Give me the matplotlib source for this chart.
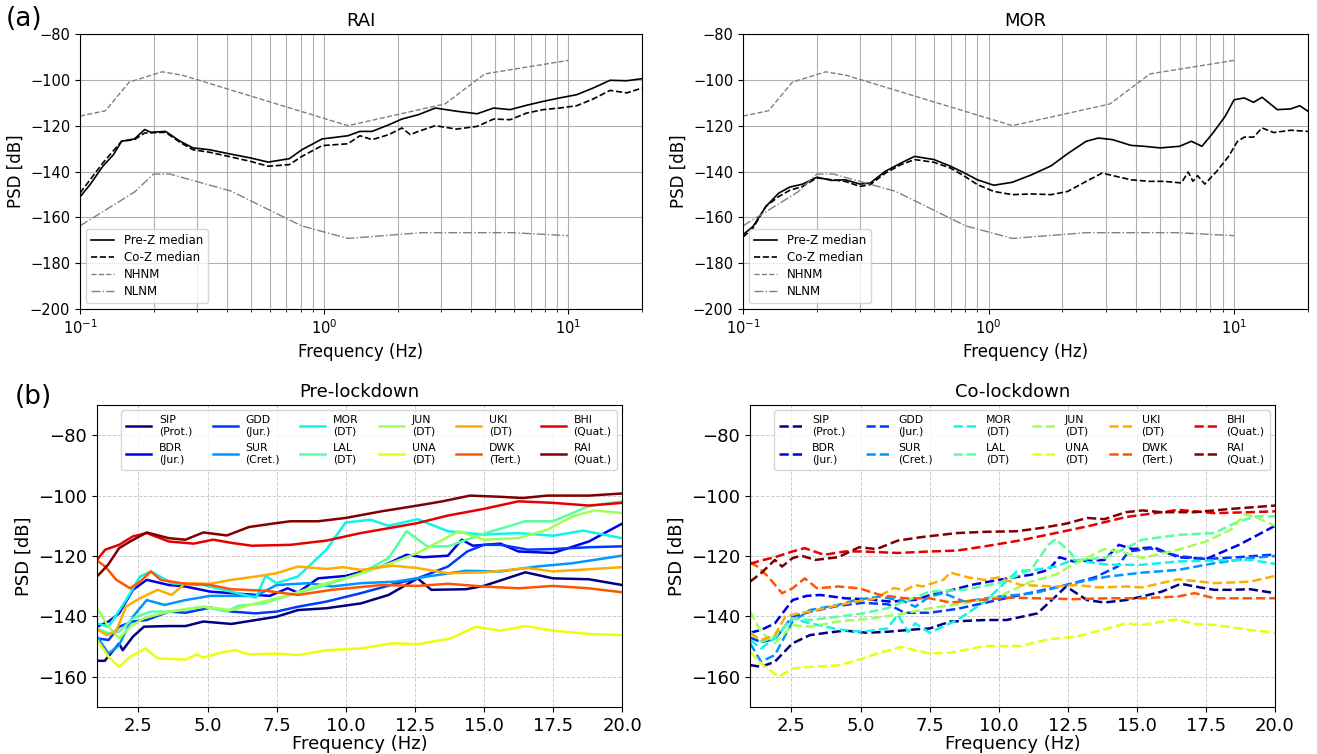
import numpy as np
import matplotlib.pyplot as plt

# ---------------- data ----------------
# Peterson noise models, vertices (Hz, dB)
nhnm = [(0.1, -115.8), (0.127, -113.5), (0.159, -101.0), (0.217, -96.5), (0.263, -98.0),
        (1.25, -120.0), (3.125, -110.5), (4.545, -97.4), (10.0, -91.5)]
nlnm = [(0.1, -163.7), (0.167, -149.0), (0.2, -141.1), (0.233, -141.1), (0.417, -148.6),
        (0.806, -163.7), (1.25, -169.2), (2.5, -166.7), (5.88, -166.7), (10.0, -168.0)]

# RAI medians (top left)
rai_pre_med = [(0.1, -151.1), (0.11, -145.7), (0.124, -137.7), (0.137, -132.7), (0.148, -126.8),
               (0.167, -125.8), (0.184, -121.7), (0.195, -122.9), (0.224, -122.5), (0.257, -126.8),
               (0.29, -129.7), (0.339, -130.5), (0.405, -132.2), (0.5, -134.1), (0.59, -135.9),
               (0.72, -134.4), (0.81, -130.5), (0.98, -125.8), (1.25, -124.4), (1.4, -122.5),
               (1.57, -122.5), (1.84, -119.6), (2.08, -117.1), (2.43, -115.2), (2.85, -112.3),
               (3.48, -113.7), (4.23, -114.8), (4.94, -112.3), (5.77, -113.0), (6.74, -111.1),
               (7.88, -109.4), (9.2, -107.9), (10.8, -106.5), (12.6, -103.6), (14.8, -100.2),
               (17.3, -100.4), (20.0, -99.5)]
rai_co_med = [(0.1, -149.4), (0.124, -136.3), (0.148, -126.8), (0.167, -126.1), (0.184, -123.2),
              (0.224, -122.9), (0.257, -127.3), (0.29, -130.5), (0.339, -131.6), (0.405, -133.4),
              (0.5, -135.6), (0.59, -137.7), (0.72, -137.0), (0.81, -133.4), (0.98, -128.7),
              (1.25, -127.9), (1.4, -124.4), (1.57, -126.1), (1.84, -123.9), (2.08, -121.0),
              (2.25, -123.9), (2.43, -122.5), (2.85, -120.0), (3.48, -121.5), (4.23, -120.3),
              (4.94, -117.1), (5.77, -117.4), (6.74, -114.5), (7.88, -113.0), (9.2, -112.3),
              (10.8, -111.3), (12.6, -108.4), (14.8, -104.6), (17.3, -105.7), (20.0, -103.6)]

# MOR medians (top right)
mor_pre_med = [(0.1, -167.6), (0.11, -163.9), (0.124, -155.2), (0.14, -149.4), (0.155, -146.8),
               (0.175, -145.5), (0.2, -142.5), (0.23, -143.9), (0.26, -143.6), (0.3, -145.5),
               (0.33, -145.0), (0.38, -139.9), (0.44, -136.3), (0.5, -133.4), (0.6, -134.8),
               (0.7, -137.7), (0.8, -140.7), (0.9, -143.6), (1.05, -146.0), (1.25, -144.7),
               (1.5, -141.4), (1.8, -137.5), (2.1, -132.2), (2.5, -126.8), (2.8, -125.4),
               (3.2, -126.1), (3.8, -128.6), (4.3, -129.0), (5.0, -129.7), (6.0, -129.0),
               (6.7, -126.8), (7.4, -129.0), (8.2, -123.2), (9.2, -115.9), (10.0, -108.7),
               (11.0, -107.9), (12.0, -109.8), (13.0, -107.6), (15.0, -113.0), (17.0, -112.7),
               (18.5, -111.3), (20.0, -113.7)]
mor_co_med = [(0.1, -168.6), (0.11, -164.6), (0.124, -155.2), (0.14, -150.9), (0.155, -148.2),
              (0.175, -146.5), (0.2, -142.8), (0.23, -143.6), (0.26, -144.3), (0.3, -146.5),
              (0.33, -145.7), (0.38, -140.7), (0.44, -137.0), (0.5, -134.8), (0.6, -136.0),
              (0.7, -138.5), (0.8, -142.1), (0.9, -145.7), (1.05, -148.7), (1.25, -150.1),
              (1.5, -149.8), (1.8, -150.1), (2.1, -148.7), (2.5, -144.3), (2.9, -140.7),
              (3.3, -142.1), (3.8, -143.6), (4.5, -144.3), (5.2, -144.3), (6.1, -145.0),
              (6.5, -140.2), (6.8, -144.3), (7.1, -141.8), (7.6, -145.5), (8.5, -139.9),
              (9.5, -133.4), (10.3, -127.0), (11.0, -125.0), (12.0, -125.0), (13.0, -121.0),
              (14.5, -123.0), (17.0, -122.0), (20.0, -122.5)]

# station names / geology
stations = ['SIP', 'BDR', 'GDD', 'SUR', 'MOR', 'LAL', 'JUN', 'UNA', 'UKI', 'DWK', 'BHI', 'RAI']
geology = ['Prot.', 'Jur.', 'Jur.', 'Cret.', 'DT', 'DT', 'DT', 'DT', 'DT', 'Tert.', 'Quat.', 'Quat.']

# Pre-lockdown median PSD per station (Hz, dB)
SIP_pre = [(1.0, -154.7), (1.28, -154.7), (1.55, -151.7), (1.8, -149.0), (1.93, -151.2), (2.3, -146.7),
           (2.7, -143.4), (3.6, -143.2), (4.2, -143.2), (4.85, -141.7), (5.86, -142.5), (6.75, -141.2),
           (7.5, -140.1), (8.27, -137.9), (9.3, -137.3), (10.55, -135.7), (11.55, -132.9), (12.6, -127.4),
           (13.1, -131.2), (14.35, -131.0), (15.0, -129.9), (16.5, -125.4), (17.5, -127.4), (18.8, -127.7),
           (20.0, -129.6)]
BDR_pre = [(1.0, -143.4), (1.42, -141.7), (1.8, -139.0), (2.3, -131.2), (2.8, -127.9), (3.6, -129.6),
           (4.2, -130.1), (5.1, -131.8), (5.86, -132.3), (6.75, -132.9), (7.25, -133.2), (7.9, -130.7),
           (8.27, -132.1), (9.0, -127.4), (10.0, -126.6), (11.3, -123.5), (12.2, -119.6), (12.8, -120.4),
           (13.7, -119.9), (14.2, -114.6), (14.6, -116.6), (15.6, -115.9), (16.25, -118.5), (17.5, -119.0),
           (18.8, -115.2), (20.0, -109.3)]
GDD_pre = [(1.0, -147.3), (1.42, -147.8), (1.8, -143.4), (2.3, -141.7), (2.8, -141.2), (3.6, -138.4),
           (4.2, -138.8), (5.1, -137.1), (5.86, -138.4), (6.75, -139.0), (7.5, -138.4), (8.27, -136.8),
           (9.3, -135.1), (10.55, -132.3), (11.8, -129.2), (12.6, -127.4), (13.7, -123.5), (14.4, -118.5),
           (15.0, -116.3), (15.6, -116.3), (16.6, -117.9), (17.5, -117.7), (18.8, -117.1), (20.0, -116.8)]
SUR_pre = [(1.0, -146.7), (1.42, -152.3), (1.8, -149.5), (2.3, -140.1), (2.8, -134.6), (3.45, -136.2),
           (4.2, -134.6), (5.1, -133.2), (5.86, -133.2), (6.75, -133.2), (7.5, -129.6), (8.66, -129.0),
           (9.5, -130.1), (10.55, -129.0), (11.8, -128.5), (13.1, -126.6), (14.35, -124.9), (15.6, -125.1),
           (16.9, -123.5), (18.2, -122.4), (20.0, -119.9)]
MOR_pre = [(1.0, -142.3), (1.42, -143.4), (2.05, -134.6), (2.56, -126.8), (2.95, -125.1), (3.7, -129.0),
           (4.85, -129.6), (5.86, -131.8), (6.75, -133.8), (7.1, -126.6), (7.5, -129.0), (8.27, -126.8),
           (9.3, -117.9), (10.0, -108.9), (10.9, -108.0), (11.55, -110.0), (12.6, -107.8), (13.7, -111.8),
           (15.0, -112.9), (16.25, -112.4), (17.5, -113.3), (18.6, -111.6), (20.0, -114.1)]
LAL_pre = [(1.0, -144.0), (1.42, -145.6), (1.8, -145.1), (2.3, -140.6), (2.95, -138.4), (3.7, -138.4),
           (4.85, -136.8), (5.7, -138.4), (6.1, -136.5), (7.0, -135.7), (8.0, -132.9), (9.3, -129.6),
           (10.55, -125.7), (11.55, -120.7), (12.2, -111.8), (12.95, -116.8), (13.7, -116.8), (15.0, -112.6),
           (16.5, -108.5), (17.5, -108.5), (18.8, -103.5), (20.0, -101.9)]
JUN_pre = [(1.0, -137.3), (1.42, -143.4), (1.8, -147.3), (2.2, -143.4), (2.7, -140.6), (3.6, -138.4),
           (4.85, -136.8), (5.86, -137.9), (6.75, -135.7), (7.77, -133.4), (9.3, -129.0), (10.55, -125.9),
           (11.8, -121.8), (12.6, -119.0), (14.1, -111.8), (15.0, -114.6), (16.25, -114.1), (17.3, -111.3),
           (18.2, -106.9), (19.0, -104.9), (20.0, -105.8)]
UNA_pre = [(1.0, -147.8), (1.42, -153.4), (1.8, -156.7), (2.2, -153.4), (2.75, -150.6), (3.2, -153.9),
           (4.2, -154.3), (4.6, -152.6), (4.85, -153.6), (5.5, -152.0), (6.0, -151.2), (6.5, -152.6),
           (7.5, -152.3), (8.3, -152.8), (9.3, -151.2), (10.55, -150.6), (11.7, -148.9), (12.6, -149.2),
           (13.8, -147.3), (14.7, -143.4), (15.6, -144.7), (16.5, -143.2), (17.5, -144.7), (18.8, -145.8),
           (20.0, -146.2)]
UKI_pre = [(1.0, -144.3), (1.36, -146.2), (1.68, -145.1), (2.05, -136.8), (2.44, -134.6), (2.8, -132.9),
           (3.2, -131.2), (3.7, -132.9), (4.2, -129.0), (5.1, -129.2), (5.86, -127.9), (6.75, -126.8),
           (7.5, -125.7), (8.27, -123.5), (9.3, -124.3), (9.9, -123.7), (10.55, -124.6), (11.7, -123.2),
           (12.6, -124.0), (13.7, -125.7), (15.0, -125.4), (16.6, -124.0), (17.5, -125.1), (18.8, -124.4),
           (20.0, -123.7)]
DWK_pre = [(1.0, -121.5), (1.3, -123.5), (1.7, -127.9), (2.2, -130.7), (2.56, -128.5), (2.95, -125.1),
           (3.3, -127.9), (4.2, -129.2), (5.1, -129.6), (5.86, -131.0), (7.1, -131.5), (8.27, -132.9),
           (9.5, -131.2), (11.3, -129.6), (12.6, -129.9), (13.7, -129.2), (15.0, -130.1), (16.25, -130.7),
           (17.5, -129.9), (18.8, -130.7), (20.0, -132.0)]
BHI_pre = [(1.0, -121.3), (1.3, -117.9), (1.8, -116.3), (2.3, -113.5), (2.8, -112.4), (3.6, -115.2),
           (4.5, -115.9), (5.2, -114.6), (5.9, -115.7), (6.6, -116.6), (8.0, -116.3), (9.3, -114.9),
           (10.55, -112.4), (11.8, -110.4), (12.6, -109.1), (13.7, -106.6), (15.0, -104.4), (16.25, -101.9),
           (17.5, -102.4), (18.8, -103.3), (20.0, -102.4)]
RAI_pre = [(1.0, -126.8), (1.4, -122.9), (1.8, -117.4), (2.2, -115.2), (2.8, -112.2), (3.6, -114.1),
           (4.2, -114.6), (4.85, -112.2), (5.7, -113.2), (6.5, -110.4), (7.5, -109.1), (8.0, -108.5),
           (9.0, -108.5), (10.0, -107.4), (11.3, -105.2), (12.6, -103.3), (13.5, -101.9), (14.5, -100.0),
           (15.6, -100.4), (16.4, -100.8), (17.3, -100.0), (18.8, -100.0), (20.0, -99.3)]

# Co-lockdown median PSD per station (Hz, dB)
SIP_co = [(1.0, -156.1), (1.4, -156.7), (1.9, -155.0), (2.54, -148.9), (3.17, -146.2), (3.8, -145.4),
          (4.44, -144.7), (5.2, -145.4), (5.96, -145.1), (6.98, -144.3), (7.5, -144.0), (8.25, -141.7),
          (9.5, -141.2), (10.28, -141.2), (11.4, -139.0), (12.06, -133.4), (12.44, -130.1), (13.2, -134.6),
          (13.83, -135.4), (14.6, -134.6), (15.2, -133.4), (15.9, -131.8), (16.6, -129.2), (17.1, -130.1),
          (17.8, -131.2), (18.4, -131.2), (19.1, -131.0), (20.0, -132.3)]
BDR_co = [(1.0, -145.4), (1.4, -144.5), (1.9, -142.3), (2.54, -134.6), (3.05, -133.2), (3.55, -132.9),
          (4.44, -134.0), (5.2, -134.3), (6.1, -135.1), (7.0, -134.5), (7.5, -133.0), (8.0, -132.0),
          (9.0, -129.6), (10.0, -127.9), (11.17, -126.2), (11.8, -124.6), (12.2, -120.4), (12.7, -121.8),
          (13.83, -121.3), (14.35, -116.3), (14.85, -117.7), (15.6, -117.1), (16.5, -120.4), (17.5, -121.0),
          (18.7, -116.3), (20.0, -110.0)]
GDD_co = [(1.0, -147.0), (1.4, -148.5), (1.9, -147.5), (2.54, -140.0), (3.17, -138.5), (4.19, -136.5),
          (5.08, -135.5), (6.0, -136.0), (6.6, -138.8), (7.5, -138.8), (8.5, -137.5), (9.5, -135.5),
          (10.5, -133.5), (11.5, -131.5), (12.5, -129.5), (13.5, -127.0), (14.3, -123.5), (14.7, -118.5),
          (15.5, -117.5), (16.5, -120.0), (17.5, -121.0), (18.5, -120.5), (20.0, -119.5)]
SUR_co = [(1.0, -148.9), (1.4, -155.0), (1.9, -152.8), (2.54, -141.7), (3.17, -137.9), (4.19, -136.2),
          (4.82, -134.6), (5.71, -133.4), (6.6, -135.1), (6.98, -136.8), (7.5, -133.4), (8.0, -132.3),
          (8.76, -135.1), (10.0, -133.4), (11.3, -132.3), (12.7, -129.0), (13.96, -126.8), (15.2, -125.5),
          (16.5, -124.6), (17.8, -122.4), (19.1, -120.7), (20.0, -120.0)]
MOR_co = [(1.0, -147.8), (1.4, -150.6), (1.9, -147.3), (2.54, -140.6), (3.17, -142.3), (4.19, -144.3),
          (5.08, -145.1), (5.96, -144.0), (6.35, -139.5), (6.73, -145.1), (6.98, -142.3), (7.5, -145.4),
          (8.5, -141.2), (9.5, -135.1), (10.66, -125.1), (11.3, -124.6), (12.06, -123.5), (12.7, -121.3),
          (13.96, -122.9), (15.2, -122.9), (16.5, -121.8), (17.8, -121.5), (19.1, -121.3), (20.0, -122.6)]
LAL_co = [(1.0, -145.1), (1.4, -148.4), (1.9, -146.7), (2.54, -140.6), (3.17, -141.2), (4.19, -140.1),
          (5.08, -139.0), (5.96, -137.3), (6.73, -134.6), (7.5, -131.8), (8.76, -131.2), (10.0, -129.0),
          (11.17, -124.6), (11.8, -116.3), (12.06, -114.4), (12.56, -118.5), (12.8, -121.3), (13.83, -120.7),
          (14.6, -117.4), (15.2, -114.6), (16.5, -113.0), (17.8, -112.4), (18.7, -108.5), (19.3, -106.9),
          (20.0, -106.9)]
JUN_co = [(1.0, -138.4), (1.4, -145.1), (1.9, -148.9), (2.54, -142.9), (3.17, -143.4), (4.19, -141.7),
          (5.46, -140.6), (6.47, -139.2), (7.5, -137.3), (8.76, -135.7), (10.0, -133.4), (11.17, -128.5),
          (12.06, -126.2), (12.8, -122.3), (13.83, -117.7), (14.6, -119.0), (15.2, -120.7), (16.5, -117.9),
          (17.5, -115.2), (18.4, -111.3), (18.9, -106.3), (19.3, -107.1), (20.0, -110.0)]
UNA_co = [(1.0, -151.7), (1.4, -155.6), (2.03, -160.0), (2.54, -157.3), (3.17, -156.7), (4.19, -156.2),
          (4.82, -154.7), (5.71, -152.0), (6.47, -150.1), (7.5, -152.3), (8.25, -152.0), (9.5, -149.8),
          (10.8, -149.8), (11.8, -147.6), (12.8, -146.7), (13.83, -144.3), (14.6, -142.3), (15.2, -142.8),
          (16.4, -141.0), (17.1, -142.5), (17.8, -142.8), (19.1, -144.5), (20.0, -145.4)]
UKI_co = [(1.0, -145.6), (1.4, -147.8), (1.9, -146.2), (2.28, -140.1), (2.67, -139.2), (3.17, -138.4),
          (3.93, -136.8), (4.82, -135.1), (5.46, -134.3), (6.22, -130.6), (6.6, -131.4), (6.98, -129.6),
          (7.24, -130.1), (8.0, -127.9), (8.25, -125.5), (8.9, -127.1), (9.5, -127.9), (10.0, -127.1),
          (10.8, -129.6), (12.06, -130.1), (12.8, -129.6), (13.6, -130.4), (14.6, -130.1), (15.2, -130.4),
          (16.5, -127.7), (17.8, -129.0), (19.1, -128.5), (20.0, -126.6)]
DWK_co = [(1.0, -122.1), (1.27, -123.5), (1.65, -126.8), (2.16, -132.3), (2.54, -130.7), (2.98, -127.4),
          (3.43, -130.7), (4.19, -130.1), (4.95, -130.7), (5.71, -132.9), (6.6, -134.0), (7.5, -134.0),
          (8.25, -135.4), (9.27, -134.6), (10.4, -133.8), (11.4, -134.0), (12.7, -134.3), (13.96, -134.0),
          (15.2, -134.0), (16.5, -133.4), (17.1, -132.3), (17.8, -134.0), (19.1, -134.0), (20.0, -134.0)]
BHI_co = [(1.0, -122.6), (1.4, -121.5), (1.9, -120.4), (2.54, -118.5), (2.98, -117.4), (3.68, -119.6),
          (4.44, -118.5), (5.08, -118.5), (6.35, -119.0), (7.5, -118.5), (8.5, -118.2), (9.5, -116.8),
          (10.8, -114.8), (12.06, -112.4), (13.3, -110.0), (14.6, -107.1), (15.9, -105.5), (16.5, -104.7),
          (17.8, -105.8), (19.1, -105.5), (20.0, -105.2)]
RAI_co = [(1.0, -128.5), (1.4, -125.7), (1.9, -121.3), (2.16, -123.5), (2.54, -120.7), (2.86, -119.9),
          (3.36, -121.3), (4.19, -120.4), (4.95, -117.1), (5.58, -117.7), (6.35, -114.9), (7.24, -113.7),
          (8.5, -112.4), (9.5, -112.0), (10.66, -111.8), (11.55, -110.7), (12.44, -109.3), (13.2, -107.4),
          (13.83, -107.8), (14.6, -105.5), (15.2, -104.9), (15.9, -105.5), (17.1, -105.5), (18.4, -104.4),
          (20.0, -103.3)]

pre_series = [SIP_pre, BDR_pre, GDD_pre, SUR_pre, MOR_pre, LAL_pre,
              JUN_pre, UNA_pre, UKI_pre, DWK_pre, BHI_pre, RAI_pre]
co_series = [SIP_co, BDR_co, GDD_co, SUR_co, MOR_co, LAL_co,
             JUN_co, UNA_co, UKI_co, DWK_co, BHI_co, RAI_co]


def xy(points):
    a = np.array(points)
    return a[:, 0], a[:, 1]


# ---------------- figure ----------------
fig = plt.figure(figsize=(13.17, 7.54), dpi=100)

W, H = 1317, 754
def box(l, r, t, b):
    return [l / W, 1 - b / H, (r - l) / W, (b - t) / H]

ax_rai = fig.add_axes(box(80, 642, 34, 309))
ax_mor = fig.add_axes(box(743, 1308, 34, 309))
ax_pre = fig.add_axes(box(97, 622, 405, 707))
ax_co = fig.add_axes(box(750, 1275, 405, 707))

for ax, title, pre, co in [(ax_rai, 'RAI', rai_pre_med, rai_co_med),
                           (ax_mor, 'MOR', mor_pre_med, mor_co_med)]:
    ax.plot(*xy(pre), color='black', lw=1.2, label='Pre-Z median')
    ax.plot(*xy(co), color='black', lw=1.2, ls='--', label='Co-Z median')
    ax.plot(*xy(nhnm), color='gray', lw=1.0, ls='--', label='NHNM')
    ax.plot(*xy(nlnm), color='gray', lw=1.0, ls='-.', label='NLNM')
    ax.set_xscale('log')
    ax.set_xlim(0.1, 20)
    ax.set_ylim(-200, -80)
    ax.set_yticks(np.arange(-200, -79, 20))
    ax.grid(True, which='both', color='#b0b0b0', lw=0.8)
    ax.set_title(title, fontsize=13)
    ax.set_xlabel('Frequency (Hz)', fontsize=12)
    ax.set_ylabel('PSD [dB]', fontsize=12)
    ax.tick_params(labelsize=10.5)
    ax.legend(loc='lower left', fontsize=8.5, labelspacing=0.35)

colors = plt.cm.jet(np.linspace(0, 1, len(stations)))
labels = [f'{s}\n({g})' for s, g in zip(stations, geology)]

for ax, title, series, ls in [(ax_pre, 'Pre-lockdown', pre_series, '-'),
                              (ax_co, 'Co-lockdown', co_series, '--')]:
    for pts, c, lab in zip(series, colors, labels):
        ax.plot(*xy(pts), color=c, lw=1.8, ls=ls, label=lab)
    ax.set_xlim(1, 20)
    ax.set_ylim(-170, -70)
    ax.set_xticks(np.arange(2.5, 20.1, 2.5))
    ax.set_yticks([-160, -140, -120, -100, -80])
    ax.grid(True, ls='--', color='#cccccc', lw=0.7)
    ax.set_title(title, fontsize=13)
    ax.set_xlabel('Frequency (Hz)', fontsize=13, labelpad=0)
    ax.set_ylabel('PSD [dB]', fontsize=13)
    ax.tick_params(labelsize=13)
    ax.legend(loc='upper right', ncol=6, fontsize=7.8, handlelength=2.3,
              handletextpad=0.7, columnspacing=1.9, labelspacing=0.6, borderpad=0.45)

fig.text(6 / W, 1 - 19 / H, '(a)', fontsize=19, ha='left', va='center')
fig.text(15 / W, 1 - 397 / H, '(b)', fontsize=19, ha='left', va='center')

plt.savefig('out.png', dpi=100)
